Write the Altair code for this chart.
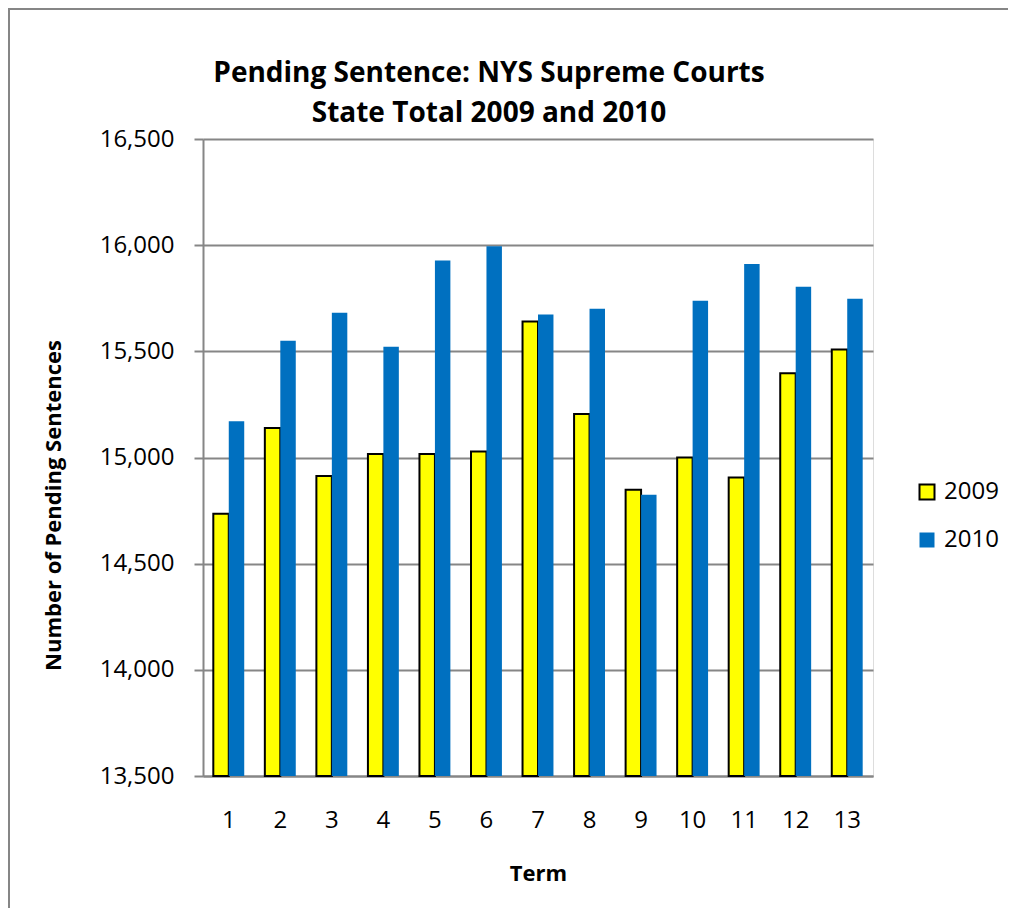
import altair as alt
import pandas as pd

terms = [str(i) for i in range(1, 14)]
years = ["2009", "2010"]
values_2009 = [14735, 15139, 14913, 15017, 15017, 15028, 15641, 15205, 14848, 15000, 14906, 15397, 15509]
values_2010 = [15171, 15550, 15682, 15521, 15928, 15995, 15673, 15701, 14824, 15738, 15911, 15804, 15748]
y_ticks = [13500, 14000, 14500, 15000, 15500, 16000, 16500]
title_lines = ["Pending Sentence: NYS Supreme Courts", "State Total 2009 and 2010"]

rows = []
for t, a, b in zip(terms, values_2009, values_2010):
    rows.append({"Term": t, "Year": "2009", "Value": a})
    rows.append({"Term": t, "Year": "2010", "Value": b})
df = pd.DataFrame(rows)

W, H = 670, 637
FONT = "Open Sans"
GRAY = "#868686"

legend = alt.Legend(
    title=None, orient="none", legendX=712, legendY=341,
    symbolType="square", symbolSize=225, symbolStrokeWidth=2,
    labelFontSize=24, labelFont=FONT, labelColor="#000000",
    rowPadding=24, labelOffset=5,
)

bars = alt.Chart(df).mark_bar(strokeWidth=2).encode(
    x=alt.X(
        "Term:N", sort=terms,
        scale=alt.Scale(paddingInner=0.4, paddingOuter=0.2),
        axis=alt.Axis(
            title="Term", labelAngle=0, ticks=False, tickSize=0,
            labelBaseline="alphabetic", labelPadding=51,
            labelFontSize=24, labelFont=FONT, labelColor="#000000",
            titleFontSize=22, titleFont=FONT, titleFontWeight="bold", titleColor="#000000",
            titleBaseline="alphabetic", titleY=104,
            domainColor=GRAY, domainWidth=2, grid=False,
        ),
    ),
    xOffset=alt.XOffset("Year:N", sort=years, scale=alt.Scale(paddingInner=0, paddingOuter=0)),
    y=alt.Y(
        "Value:Q",
        scale=alt.Scale(domain=[13500, 16500], zero=False, nice=False),
        axis=alt.Axis(
            title="Number of Pending Sentences", values=y_ticks, format=",d",
            labelFontSize=24, labelFont=FONT, labelColor="#000000", labelPadding=20,
            tickSize=9, tickColor=GRAY, tickWidth=2,
            domainColor=GRAY, domainWidth=2,
            gridColor=GRAY, gridWidth=2,
            titleFontSize=22, titleFont=FONT, titleFontWeight="bold", titleColor="#000000",
            titleBaseline="alphabetic", titleX=-143, titleY=366, titleAngle=270, titleAlign="center",
        ),
    ),
    y2=alt.datum(13500),
    color=alt.Color("Year:N", scale=alt.Scale(domain=years, range=["#FFFF00", "#0070C0"]), legend=legend),
    stroke=alt.Stroke("Year:N", scale=alt.Scale(domain=years, range=["#000000", "transparent"]), legend=legend),
)

frame_df = pd.DataFrame({"k": [0]})
frame_v = alt.Chart(frame_df).mark_rule(color=GRAY, strokeWidth=2).encode(
    x=alt.value(-194), y=alt.value(-131), y2=alt.value(H + 132)
)
frame_h = alt.Chart(frame_df).mark_rule(color=GRAY, strokeWidth=2).encode(
    x=alt.value(-195), x2=alt.value(W + 135), y=alt.value(-130)
)

chart = alt.layer(frame_v, frame_h, bars).properties(
    width=W, height=H,
    padding={"left": 195, "top": 131, "right": 135, "bottom": 132},
    autosize=alt.AutoSizeParams(type="none"),
    title=alt.TitleParams(
        text=title_lines, fontSize=28, font=FONT, fontWeight="bold", color="#000000",
        anchor="middle", dx=-49, dy=131, lineHeight=40, offset=10,
    ),
).configure_view(stroke=None).configure(background="#ffffff")

chart.save("out.html", embed_options={"renderer": "svg", "actions": False})
